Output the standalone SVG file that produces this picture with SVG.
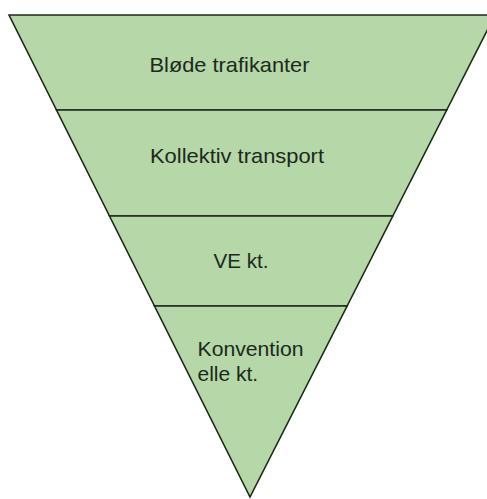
<svg xmlns="http://www.w3.org/2000/svg" width="487" height="499" viewBox="0 0 487 499">
<style>
.layer{fill:#b6d7a8;stroke:#1c2a1c;stroke-width:1.6;stroke-linejoin:miter}
.lbl{font-family:"Liberation Sans",Arial,sans-serif;font-size:21px;fill:#1b2a1b}
</style>
<rect width="487" height="499" fill="#ffffff"/>
<g id="layer1">
<polygon class="layer" points="9,15 495,15 446.7,110 56.5,110"/>
<text class="lbl" x="149.5" y="72" textLength="160" lengthAdjust="spacingAndGlyphs">Bløde trafikanter</text>
</g>
<g id="layer2">
<polygon class="layer" points="56.5,110 446.7,110 392.8,216 109.5,216"/>
<text class="lbl" x="150" y="162.5" textLength="174" lengthAdjust="spacingAndGlyphs">Kollektiv transport</text>
</g>
<g id="layer3">
<polygon class="layer" points="109.5,216 392.8,216 347.1,306 154.5,306"/>
<text class="lbl" x="213.5" y="267.5" textLength="55" lengthAdjust="spacingAndGlyphs">VE kt.</text>
</g>
<g id="layer4">
<polygon class="layer" points="154.5,306 347.1,306 250,497"/>
<text class="lbl" x="197.5" y="355.5" textLength="106" lengthAdjust="spacingAndGlyphs">Konvention</text>
<text class="lbl" x="197.5" y="380.5">elle kt.</text>
</g>
</svg>
